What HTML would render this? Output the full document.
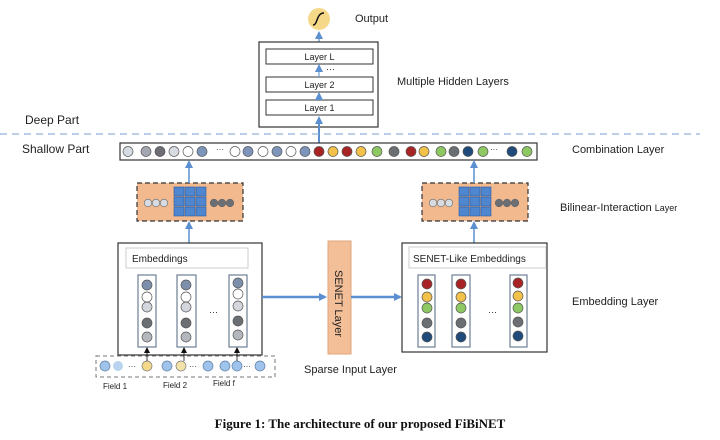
<!DOCTYPE html>
<html><head><meta charset="utf-8"><style>
html,body{margin:0;padding:0;background:#fff;}
svg{display:block;font-family:"Liberation Sans",sans-serif;}
</style></head><body>
<svg width="720" height="440" viewBox="0 0 720 440" xmlns="http://www.w3.org/2000/svg">
<defs>
<marker id="ah" markerWidth="8" markerHeight="8" refX="6" refY="4" orient="auto" markerUnits="userSpaceOnUse"><path d="M0,0 L8,4 L0,8 z" fill="#5b8fcf"/></marker>
<marker id="ak" markerWidth="6" markerHeight="6" refX="5" refY="3" orient="auto" markerUnits="userSpaceOnUse"><path d="M0,0 L6,3 L0,6 z" fill="#111"/></marker>
</defs>
<!-- Output -->
<circle cx="319" cy="19" r="11" fill="#f6d889"/>
<path d="M313,25 C318,25 316,13 324,13" stroke="#111" stroke-width="1.5" fill="none"/>
<text x="355" y="22" font-size="11" fill="#222">Output</text>
<line x1="319" y1="42" x2="319" y2="33" stroke="#5b8fcf" stroke-width="1.2" marker-end="url(#ah)"/>
<rect x="259" y="42" width="119" height="85" fill="#fff" stroke="#333" stroke-width="1.2"/>
<rect x="266" y="49" width="107" height="15" fill="#fff" stroke="#333"/>
<rect x="266" y="77" width="107" height="15" fill="#fff" stroke="#333"/>
<rect x="266" y="100" width="107" height="15" fill="#fff" stroke="#333"/>
<text x="319.5" y="60" font-size="9" text-anchor="middle" fill="#222">Layer L</text>
<text x="319.5" y="88" font-size="9" text-anchor="middle" fill="#222">Layer 2</text>
<text x="319.5" y="111" font-size="9" text-anchor="middle" fill="#222">Layer 1</text>
<text x="326" y="72" font-size="9" fill="#222">···</text>
<line x1="319" y1="77" x2="319" y2="66" stroke="#5b8fcf" marker-end="url(#ah)"/>
<line x1="319" y1="100" x2="319" y2="94" stroke="#5b8fcf" marker-end="url(#ah)"/>
<line x1="319" y1="143" x2="319" y2="118" stroke="#5b8fcf" stroke-width="2" marker-end="url(#ah)"/>
<text x="397" y="85" font-size="11" fill="#222">Multiple Hidden Layers</text>
<!-- Parts -->
<text x="25" y="124" font-size="12" fill="#222">Deep Part</text>
<line x1="0" y1="134" x2="700" y2="134" stroke="#8fb3d9" stroke-width="1.2" stroke-dasharray="7,5"/>
<text x="22" y="153" font-size="12" fill="#222">Shallow Part</text>
<!-- Combination -->
<rect x="120" y="143" width="417" height="17" fill="#fff" stroke="#333" stroke-width="1.2"/>
<g stroke="#555" stroke-width="0.7">
<circle cx="128" cy="151.5" r="5" fill="#d7dbe2"/>
<circle cx="146" cy="151.5" r="5" fill="#a3a8b0"/>
<circle cx="160" cy="151.5" r="5" fill="#6b6e73"/>
<circle cx="174" cy="151.5" r="5" fill="#d7dbe2"/>
<circle cx="188" cy="151.5" r="5" fill="#fff"/>
<circle cx="202" cy="151.5" r="5" fill="#7d95ba"/>
<circle cx="235" cy="151.5" r="5" fill="#fff"/>
<circle cx="248" cy="151.5" r="5" fill="#7d95ba"/>
<circle cx="263" cy="151.5" r="5" fill="#fff"/>
<circle cx="277" cy="151.5" r="5" fill="#7d95ba"/>
<circle cx="291" cy="151.5" r="5" fill="#fff"/>
<circle cx="305" cy="151.5" r="5" fill="#7d95ba"/>
<circle cx="319" cy="151.5" r="5" fill="#a82424"/>
<circle cx="333" cy="151.5" r="5" fill="#f2c14a"/>
<circle cx="347" cy="151.5" r="5" fill="#a82424"/>
<circle cx="361" cy="151.5" r="5" fill="#f2c14a"/>
<circle cx="377" cy="151.5" r="5" fill="#8dc862"/>
<circle cx="394" cy="151.5" r="5" fill="#6b6e73"/>
<circle cx="411" cy="151.5" r="5" fill="#a82424"/>
<circle cx="424" cy="151.5" r="5" fill="#f2c14a"/>
<circle cx="441" cy="151.5" r="5" fill="#8dc862"/>
<circle cx="454" cy="151.5" r="5" fill="#6b6e73"/>
<circle cx="468" cy="151.5" r="5" fill="#1f4a7a"/>
<circle cx="483" cy="151.5" r="5" fill="#8dc862"/>
<circle cx="512" cy="151.5" r="5" fill="#1f4a7a"/>
<circle cx="527" cy="151.5" r="5" fill="#8dc862"/>
</g>
<text x="216" y="152" font-size="8" fill="#222">···</text>
<text x="490" y="152" font-size="8" fill="#222">···</text>
<text x="572" y="153" font-size="11" fill="#222">Combination Layer</text>
<!-- Bilinear -->
<g id="bil">
<rect x="137" y="183" width="106" height="38" fill="#f2b98e" stroke="#333" stroke-dasharray="5,3" stroke-width="1.2"/>
<g stroke="#666" stroke-width="0.6">
<circle cx="148" cy="203" r="3.8" fill="#d7dbe2"/><circle cx="156" cy="203" r="3.8" fill="#d7dbe2"/><circle cx="164" cy="203" r="3.8" fill="#d7dbe2"/>
<circle cx="214" cy="203" r="3.8" fill="#6b6e73"/><circle cx="222" cy="203" r="3.8" fill="#6b6e73"/><circle cx="230" cy="203" r="3.8" fill="#6b6e73"/>
</g>
<g fill="#4f86d0" stroke="#2d5d9e" stroke-width="0.6">
<rect x="174" y="187" width="10" height="9"/><rect x="185" y="187" width="10" height="9"/><rect x="196" y="187" width="10" height="9"/>
<rect x="174" y="197" width="10" height="9"/><rect x="185" y="197" width="10" height="9"/><rect x="196" y="197" width="10" height="9"/>
<rect x="174" y="207" width="10" height="9"/><rect x="185" y="207" width="10" height="9"/><rect x="196" y="207" width="10" height="9"/>
</g>
</g>
<use href="#bil" x="285" y="0"/>
<line x1="189" y1="183" x2="189" y2="162" stroke="#5b8fcf" stroke-width="1.5" marker-end="url(#ah)"/>
<line x1="474" y1="183" x2="474" y2="162" stroke="#5b8fcf" stroke-width="1.5" marker-end="url(#ah)"/>
<line x1="189" y1="243" x2="189" y2="223" stroke="#5b8fcf" stroke-width="1.5" marker-end="url(#ah)"/>
<line x1="474" y1="243" x2="474" y2="223" stroke="#5b8fcf" stroke-width="1.5" marker-end="url(#ah)"/>
<text x="560" y="211" font-size="11" fill="#222">Bilinear-Interaction <tspan font-size="9">Layer</tspan></text>
<!-- Embeddings -->
<rect x="118" y="243" width="144" height="112" fill="#fff" stroke="#333" stroke-width="1.2"/>
<rect x="126" y="248" width="122" height="20" fill="#fff" stroke="#ccc"/>
<text x="132" y="262" font-size="10" fill="#222">Embeddings</text>
<g stroke="#6d7f94" fill="none" stroke-width="1.2">
<rect x="138" y="275" width="18" height="72"/><rect x="177" y="275" width="19" height="72"/><rect x="229" y="275" width="18" height="72"/>
</g>
<g stroke="#555" stroke-width="0.7">
<circle cx="147" cy="285" r="5" fill="#7d8fab"/><circle cx="147" cy="297" r="5" fill="#fff"/><circle cx="147" cy="307" r="5" fill="#d3d6dc"/><circle cx="147" cy="323" r="5" fill="#6b6e73"/><circle cx="147" cy="337" r="5" fill="#b4b7bd"/>
<circle cx="186" cy="285" r="5" fill="#7d8fab"/><circle cx="186" cy="297" r="5" fill="#fff"/><circle cx="186" cy="307" r="5" fill="#d3d6dc"/><circle cx="186" cy="323" r="5" fill="#6b6e73"/><circle cx="186" cy="337" r="5" fill="#b4b7bd"/>
<circle cx="238" cy="283" r="5" fill="#7d8fab"/><circle cx="238" cy="294" r="5" fill="#fff"/><circle cx="238" cy="306" r="5" fill="#d3d6dc"/><circle cx="238" cy="321" r="5" fill="#6b6e73"/><circle cx="238" cy="335" r="5" fill="#b4b7bd"/>
</g>
<text x="209" y="315" font-size="9" fill="#222">···</text>
<!-- SENET -->
<line x1="262" y1="297" x2="325" y2="297" stroke="#5b8fcf" stroke-width="2.5" marker-end="url(#ah)"/>
<rect x="328" y="241" width="23" height="113" fill="#f3bf99" stroke="#e0a57b"/>
<text x="0" y="0" font-size="11" fill="#222" transform="translate(335,270) rotate(90)">SENET Layer</text>
<line x1="351" y1="297" x2="400" y2="297" stroke="#5b8fcf" stroke-width="2.5" marker-end="url(#ah)"/>
<!-- SENET-like -->
<rect x="402" y="243" width="145" height="109" fill="#fff" stroke="#333" stroke-width="1.2"/>
<rect x="409" y="247" width="137" height="21" fill="#fff" stroke="#ccc"/>
<text x="413" y="262" font-size="10" fill="#222">SENET-Like Embeddings</text>
<g stroke="#6d7f94" fill="none" stroke-width="1.2">
<rect x="418" y="275" width="17" height="72"/><rect x="452" y="275" width="18" height="72"/><rect x="510" y="275" width="17" height="72"/>
</g>
<g stroke="#555" stroke-width="0.7">
<circle cx="427" cy="284" r="5" fill="#a82424"/><circle cx="427" cy="297" r="5" fill="#f2c14a"/><circle cx="427" cy="308" r="5" fill="#8dc862"/><circle cx="427" cy="323" r="5" fill="#6b6e73"/><circle cx="427" cy="337" r="5" fill="#1f4a7a"/>
<circle cx="461" cy="284" r="5" fill="#a82424"/><circle cx="461" cy="297" r="5" fill="#f2c14a"/><circle cx="461" cy="308" r="5" fill="#8dc862"/><circle cx="461" cy="323" r="5" fill="#6b6e73"/><circle cx="461" cy="337" r="5" fill="#1f4a7a"/>
<circle cx="518" cy="283" r="5" fill="#a82424"/><circle cx="518" cy="296" r="5" fill="#f2c14a"/><circle cx="518" cy="308" r="5" fill="#8dc862"/><circle cx="518" cy="322" r="5" fill="#6b6e73"/><circle cx="518" cy="336" r="5" fill="#1f4a7a"/>
</g>
<text x="488" y="315" font-size="9" fill="#222">···</text>
<text x="572" y="305" font-size="11" fill="#222">Embedding Layer</text>
<!-- Sparse input -->
<rect x="96" y="356" width="179" height="21" fill="#fff" stroke="#777" stroke-dasharray="4,3"/>
<g stroke="#5a7fa8" stroke-width="0.7">
<circle cx="105" cy="366" r="5" fill="#9fc3ea"/><circle cx="118" cy="366" r="5" fill="#b9d3ef" stroke="none"/>
<circle cx="147" cy="366" r="5" fill="#f4d98a" stroke="#777"/>
<circle cx="167" cy="366" r="5" fill="#9fc3ea"/><circle cx="181" cy="366" r="5" fill="#f4e3a8" stroke="#777"/>
<circle cx="208" cy="366" r="5" fill="#9fc3ea"/><circle cx="225" cy="366" r="5" fill="#9fc3ea"/><circle cx="237" cy="366" r="5" fill="#9fc3ea"/><circle cx="260" cy="366" r="5" fill="#9fc3ea"/>
</g>
<text x="128" y="369" font-size="8" fill="#222">···</text>
<text x="189" y="369" font-size="8" fill="#222">···</text>
<text x="243" y="369" font-size="8" fill="#222">···</text>
<line x1="147" y1="361" x2="147" y2="348" stroke="#111" stroke-width="0.8" marker-end="url(#ak)"/>
<line x1="184" y1="361" x2="184" y2="348" stroke="#111" stroke-width="0.8" marker-end="url(#ak)"/>
<line x1="237" y1="361" x2="237" y2="348" stroke="#111" stroke-width="0.8" marker-end="url(#ak)"/>
<text x="103" y="389" font-size="8" fill="#222">Field 1</text>
<text x="163" y="388" font-size="8" fill="#222">Field 2</text>
<text x="213" y="386" font-size="8" fill="#222">Field f</text>
<text x="304" y="373" font-size="11" fill="#222">Sparse Input Layer</text>
<text x="360" y="428" font-size="13" font-weight="bold" text-anchor="middle" fill="#111" font-family="Liberation Serif, serif">Figure 1: The architecture of our proposed FiBiNET</text>
</svg>
</body></html>
